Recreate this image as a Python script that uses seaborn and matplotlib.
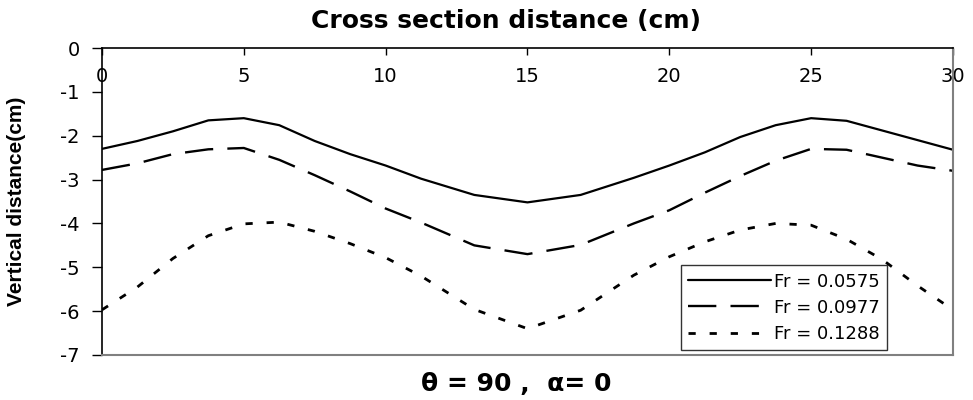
import numpy as np
import pandas as pd
import matplotlib
matplotlib.use("Agg")
import matplotlib.pyplot as plt
import seaborn as sns

# ---- data ----
x_cm = [0, 1.25, 2.5, 3.75, 5, 6.25, 7.5, 8.75, 10, 11.25, 13.125, 15, 16.875,
        18.75, 20, 21.25, 22.5, 23.75, 25, 26.25, 27.5, 28.75, 30]
fr_0575 = [-2.30, -2.12, -1.90, -1.65, -1.60, -1.76, -2.12, -2.42, -2.68, -2.98,
           -3.35, -3.52, -3.35, -2.96, -2.68, -2.38, -2.03, -1.76, -1.60, -1.66,
           -1.88, -2.10, -2.32]
fr_0977 = [-2.78, -2.63, -2.42, -2.31, -2.28, -2.55, -2.90, -3.27, -3.66, -3.98,
           -4.50, -4.70, -4.49, -4.00, -3.70, -3.30, -2.92, -2.57, -2.30, -2.32,
           -2.50, -2.68, -2.80]
fr_1288 = [-5.97, -5.45, -4.80, -4.28, -4.01, -3.97, -4.18, -4.46, -4.78, -5.20,
           -5.96, -6.40, -5.98, -5.18, -4.76, -4.42, -4.15, -4.00, -4.04, -4.36,
           -4.82, -5.42, -5.97]
series_labels = ["Fr = 0.0575", "Fr = 0.0977", "Fr = 0.1288"]
x_ticks = [0, 5, 10, 15, 20, 25, 30]
y_ticks = [0, -1, -2, -3, -4, -5, -6, -7]

sns.set_style("white")
plt.rcParams["font.family"] = ["DejaVu Sans"]
plt.rcParams["text.color"] = "black"
plt.rcParams["axes.labelcolor"] = "black"
plt.rcParams["xtick.color"] = "black"
plt.rcParams["ytick.color"] = "black"

fig = plt.figure(figsize=(9.73, 4.0), dpi=100)
ax = fig.add_axes([0.1048, 0.1125, 0.8746, 0.7675])

styles = [
    dict(linestyle="-", lw=1.6),
    dict(linestyle=(0, (12.0, 6.0)), lw=1.7),
    dict(linestyle=(0, (2.6, 5.0)), lw=2.0),
]
for ys, lab, st in zip([fr_0575, fr_0977, fr_1288], series_labels, styles):
    df = pd.DataFrame({"x": x_cm, "y": ys})
    sns.lineplot(data=df, x="x", y="y", ax=ax, color="black", label=lab,
                 sort=False, estimator=None, **st)

ax.set_xlim(0, 30)
ax.set_ylim(-7, 0)
ax.set_xticks(x_ticks)
ax.set_yticks(y_ticks)
ax.set_yticklabels([str(v) for v in y_ticks])
ax.xaxis.tick_top()
ax.tick_params(axis="x", top=True, bottom=False, labeltop=True, labelbottom=False,
               direction="in", length=5, width=1, pad=-27, labelsize=14, colors="black")
ax.tick_params(axis="y", left=True, direction="out", length=7, width=1,
               pad=9, labelsize=14, colors="black")

for side in ["left", "top"]:
    ax.spines[side].set_color("black")
    ax.spines[side].set_linewidth(1.2)
for side in ["right", "bottom"]:
    ax.spines[side].set_color("#808080")
    ax.spines[side].set_linewidth(1.5)

ax.set_xlabel("")
ax.set_ylabel("Vertical distance(cm)", fontsize=15, fontweight="bold", color="black",
              family=["Liberation Sans", "DejaVu Sans"])
ax.yaxis.set_label_coords(-0.089, 0.5)
fig.text(0.52, 0.948, "Cross section distance (cm)", ha="center", va="center",
         fontsize=18, fontweight="bold", color="black")
fig.text(0.531, 0.04, "θ = 90 ,  α= 0", ha="center", va="center",
         fontsize=18, fontweight="bold", color="black")

leg = ax.legend(loc="lower right", bbox_to_anchor=(0.922, 0.016), fontsize=13,
                handlelength=4.6, handletextpad=0.15, borderpad=0.4,
                labelspacing=0.45, frameon=True, fancybox=False, borderaxespad=0)
leg.get_frame().set_edgecolor("black")
leg.get_frame().set_linewidth(1.0)
for t in leg.get_texts():
    t.set_color("black")

fig.savefig("out.png", dpi=100)
